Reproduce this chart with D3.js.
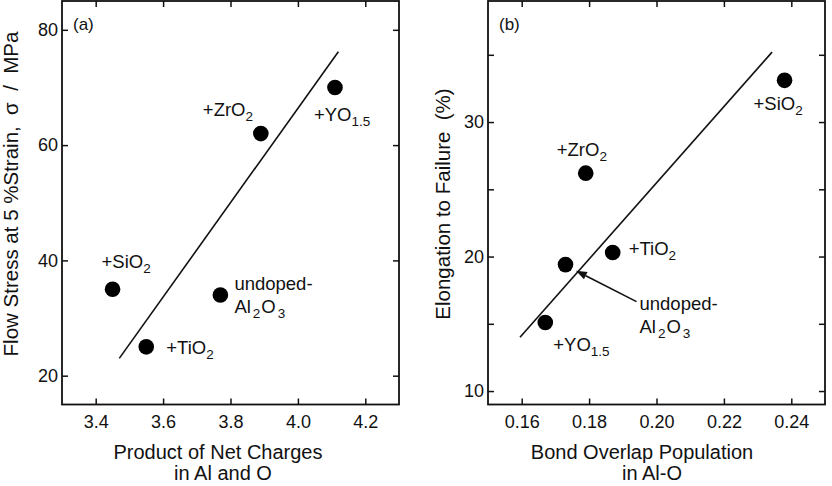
<!DOCTYPE html>
<html>
<head>
<meta charset="utf-8">
<script src="https://cdn.jsdelivr.net/npm/d3@7"></script>
<style>
  html, body { margin: 0; padding: 0; background: #fff; }
  svg { display: block; font-family: "Liberation Sans", Arial, Helvetica, sans-serif; }
</style>
</head>
<body>
<svg id="chart" width="832" height="486"></svg>
<script>
// ---------- data ----------
const compounds = ["+SiO2", "+TiO2", "undoped-Al2O3", "+ZrO2", "+YO1.5"];

// panel (a)
const chargeProduct = [3.45, 3.55, 3.77, 3.89, 4.11];
const flowStress    = [35, 25, 34, 62, 70];
const fitAX = [3.47, 4.12];
const fitAY = [23.0, 76.2];
const aXTicks = [3.4, 3.6, 3.8, 4.0, 4.2];
const aYTicks = [20, 40, 60, 80];

// panel (b)
const bondOverlap = [0.238, 0.187, 0.173, 0.179, 0.167];
const elongation  = [33.1, 20.3, 19.4, 26.2, 15.1];
const fitBX = [0.1595, 0.2343];
const fitBY = [14.0, 35.2];
const bXTicks = [0.16, 0.18, 0.20, 0.22, 0.24];
const bYTicks = [10, 15, 20, 25, 30, 35];
const bYLabelTicks = [10, 20, 30];
const arrowTipB = [0.1761, 18.95];

// label pieces: [text, isSubscript]
const labelParts = {
  "+SiO2": [["+SiO", false], ["2", true]],
  "+TiO2": [["+TiO", false], ["2", true]],
  "+ZrO2": [["+ZrO", false], ["2", true]],
  "+YO1.5": [["+YO", false], ["1.5", true]]
};

// ---------- layout / style ----------
const svg = d3.select("#chart");
const tickLen = 6;
const LBL = 18.5, SUB = 13.5;
const panels = [
  { id: "a", x0: 62, x1: 399, y0: 1, y1: 404.5,
    xDomain: [3.3, 4.3], yDomain: [15, 85],
    xVals: chargeProduct, yVals: flowStress, fitX: fitAX, fitY: fitAY,
    xTicks: aXTicks, yTicks: aYTicks, yLabelTicks: aYTicks,
    xFmt: d3.format(".1f"), yFmt: d3.format("d"),
    tag: "(a)",
    xTitle: ["Product of Net Charges", "in Al and O"], xTitleCx: [218, 223],
    yTitle: "Flow Stress at 5 %Strain,  \u03c3  /  MPa", yTitlePos: [18, 194],
    offsets: [[-11, -21], [20, 7], [14, -5], [-58, -18], [-21, 34]],
    arrow: null },
  { id: "b", x0: 488, x1: 825, y0: 1, y1: 404.5,
    xDomain: [0.15, 0.25], yDomain: [9, 39],
    xVals: bondOverlap, yVals: elongation, fitX: fitBX, fitY: fitBY,
    xTicks: bXTicks, yTicks: bYTicks, yLabelTicks: bYLabelTicks,
    xFmt: d3.format(".2f"), yFmt: d3.format("d"),
    tag: "(b)",
    xTitle: ["Bond Overlap Population", "in Al-O"], xTitleCx: [642, 652],
    yTitle: "Elongation to Failure  (%)", yTitlePos: [450, 204],
    offsets: [[-31, 30], [16, 2], [74, 45], [-29, -17], [8, 29]],
    arrow: arrowTipB }
];

function addLabel(g, name, x, y) {
  if (name === "undoped-Al2O3") {
    g.append("text").attr("x", x).attr("y", y).attr("font-size", LBL).text("undoped-");
    const t = g.append("text").attr("x", x).attr("y", y + 23).attr("font-size", LBL);
    t.append("tspan").text("Al");
    t.append("tspan").attr("dx", 2).attr("dy", 5).attr("font-size", SUB).text("2");
    t.append("tspan").attr("dx", 1).attr("dy", -5).text("O");
    t.append("tspan").attr("dx", 2).attr("dy", 5).attr("font-size", SUB).text("3");
    return;
  }
  const t = g.append("text").attr("x", x).attr("y", y).attr("font-size", LBL);
  labelParts[name].forEach(([s, sub], i) => {
    const ts = t.append("tspan").text(s);
    if (sub) ts.attr("dy", 5).attr("font-size", SUB);
  });
}

panels.forEach(p => {
  const x = d3.scaleLinear().domain(p.xDomain).range([p.x0, p.x1]);
  const y = d3.scaleLinear().domain(p.yDomain).range([p.y1, p.y0]);
  const g = svg.append("g");

  // axes (ticks inward on all four sides)
  const ax = [
    d3.axisBottom(x).tickValues(p.xTicks).tickFormat(p.xFmt).tickSizeInner(-tickLen).tickSizeOuter(0).tickPadding(11),
    d3.axisTop(x).tickValues(p.xTicks).tickFormat("").tickSizeInner(-tickLen).tickSizeOuter(0),
    d3.axisLeft(y).tickValues(p.yTicks).tickFormat(d => p.yLabelTicks.includes(d) ? p.yFmt(d) : "").tickSizeInner(-tickLen).tickSizeOuter(0).tickPadding(4),
    d3.axisRight(y).tickValues(p.yTicks).tickFormat("").tickSizeInner(-tickLen).tickSizeOuter(0)
  ];
  const trans = [`translate(0,${p.y1})`, `translate(0,${p.y0})`, `translate(${p.x0},0)`, `translate(${p.x1},0)`];
  ax.forEach((a, i) => {
    const ag = g.append("g").attr("transform", trans[i]).call(a);
    ag.select(".domain").remove();
    ag.selectAll("line").attr("stroke", "#111").attr("stroke-width", 1.5);
    ag.selectAll("text").attr("font-size", 18).attr("fill", "#111")
      .attr("font-family", "Liberation Sans, Arial, sans-serif");
  });

  // frame
  g.append("rect").attr("x", p.x0).attr("y", p.y0)
    .attr("width", p.x1 - p.x0).attr("height", p.y1 - p.y0)
    .attr("fill", "none").attr("stroke", "#111").attr("stroke-width", 1.8);

  // fit line
  g.append("line")
    .attr("x1", x(p.fitX[0])).attr("y1", y(p.fitY[0]))
    .attr("x2", x(p.fitX[1])).attr("y2", y(p.fitY[1]))
    .attr("stroke", "#111").attr("stroke-width", 1.6);

  // points
  g.selectAll("circle.pt").data(p.xVals).join("circle")
    .attr("class", "pt")
    .attr("cx", (d) => x(d)).attr("cy", (d, i) => y(p.yVals[i]))
    .attr("r", 7.8).attr("fill", "#000");

  // labels
  const lg = g.append("g").attr("fill", "#111");
  compounds.forEach((c, i) => {
    const px = x(p.xVals[i]), py = y(p.yVals[i]);
    addLabel(lg, c, px + p.offsets[i][0], py + p.offsets[i][1]);
  });

  // arrow (panel b)
  if (p.arrow) {
    const tipX = x(p.arrow[0]), tipY = y(p.arrow[1]);
    const ui = compounds.indexOf("undoped-Al2O3");
    const sx = x(p.xVals[ui]) + p.offsets[ui][0] - 3;
    const sy = y(p.yVals[ui]) + p.offsets[ui][1] - 8;
    const ang = Math.atan2(tipY - sy, tipX - sx);
    const hl = 11, hw = 4;
    const bx = tipX - hl * Math.cos(ang), by = tipY - hl * Math.sin(ang);
    g.append("line").attr("x1", sx).attr("y1", sy).attr("x2", bx).attr("y2", by)
      .attr("stroke", "#111").attr("stroke-width", 1.6);
    const nx = -Math.sin(ang) * hw, ny = Math.cos(ang) * hw;
    g.append("path")
      .attr("d", `M${tipX},${tipY}L${bx + nx},${by + ny}L${bx - nx},${by - ny}Z`)
      .attr("fill", "#111");
  }

  // panel tag
  g.append("text").attr("x", p.x0 + 11).attr("y", 30).attr("font-size", 17).attr("fill", "#111").text(p.tag);

  // x title
  p.xTitle.forEach((t, i) => {
    g.append("text").attr("x", p.xTitleCx[i]).attr("y", 459 + i * 21)
      .attr("text-anchor", "middle").attr("font-size", 20).attr("fill", "#111").text(t);
  });

  // y title
  g.append("text")
    .attr("transform", `translate(${p.yTitlePos[0]},${p.yTitlePos[1]}) rotate(-90)`)
    .attr("text-anchor", "middle").attr("font-size", 20.5).attr("fill", "#111")
    .style("white-space", "pre").text(p.yTitle);
});
</script>
</body>
</html>
